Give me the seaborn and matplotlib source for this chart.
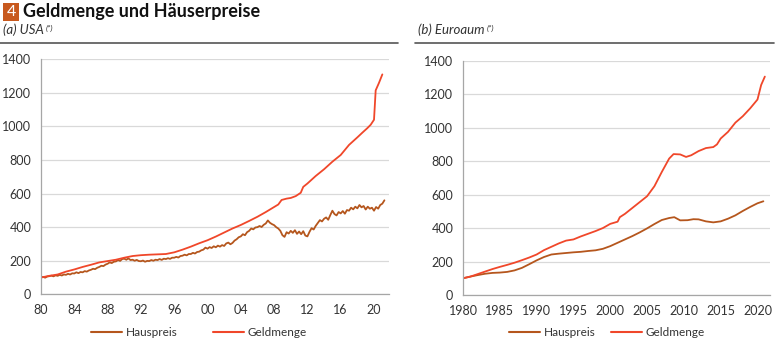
import numpy as np
import pandas as pd
import matplotlib
matplotlib.use("Agg")
import matplotlib.pyplot as plt
from matplotlib.lines import Line2D
from matplotlib.patches import Rectangle
import seaborn as sns

# ---- data -------------------------------------------------------------
# USA house price index, quarterly from 1980Q1 (1980 = 100)
us_house = [
    100, 104, 99, 106,   108, 111, 107, 113,   110, 116, 112, 118,
    116, 122, 118, 125,  124, 131, 126, 133,   131, 138, 135, 142,
    146, 152, 150, 158,  163, 170, 168, 177,   182, 190, 186, 194,
    196, 204, 199, 210,  212, 206, 214, 204,   206, 200, 205, 198,
    197, 201, 194, 199,  198, 204, 200, 206,   204, 210, 205, 212,
    210, 215, 211, 218,  218, 223, 219, 228,   230, 236, 232, 240,
    240, 247, 243, 252,  254, 262, 266, 278,   272, 281, 276, 286,
    280, 290, 284, 293,  288, 303, 308, 298,   306, 320, 328, 340,
    345, 358, 352, 370,  378, 392, 387, 398,   400, 407, 401, 414,
    422, 440, 426, 418,  412, 400, 392, 378,   352, 342, 370, 362,
    378, 366, 382, 360,  374, 358, 376, 350,   345, 372, 394, 386,
    408, 425, 442, 434,  450, 458, 444, 472,   498, 478, 470, 490,
    482, 496, 480, 502,  498, 516, 506, 522,   512, 532, 518, 526,
    505, 522, 510, 516,  498, 520, 510, 532,   540, 560,
]
us_house_t = [1980 + i / 4 for i in range(len(us_house))]

# USA money supply (1980 = 100)
us_money_t = [1980.0, 1981.0, 1982.0, 1983.0, 1984.0, 1985.0, 1986.0, 1987.0,
              1988.0, 1989.0, 1990.0, 1991.0, 1992.0, 1993.0, 1994.0, 1995.0,
              1996.0, 1997.0, 1998.0, 1999.0, 2000.0, 2001.0, 2002.0, 2003.0,
              2004.0, 2005.0, 2006.0, 2007.0, 2008.0, 2008.5, 2008.9, 2009.5,
              2010.0, 2010.6, 2011.2, 2011.5, 2012.0, 2013.0, 2014.0, 2015.0,
              2016.0, 2017.0, 2018.0, 2018.6, 2019.2, 2019.6, 2020.0, 2020.2,
              2020.6, 2021.0]
us_money = [100, 110, 118, 135, 148, 163, 176, 190,
            198, 206, 218, 228, 233, 236, 238, 240,
            250, 266, 284, 304, 322, 344, 368, 392,
            413, 437, 462, 490, 520, 535, 562, 570,
            574, 585, 605, 640, 660, 705, 745, 790,
            830, 890, 935, 963, 990, 1010, 1040, 1215,
            1260, 1310]

# Euro area house prices (1980 = 100)
eu_house_t = [1980, 1981, 1982, 1983, 1984, 1985, 1986, 1987, 1988, 1989,
              1990, 1991, 1992, 1993, 1994, 1995, 1996, 1997, 1998, 1999,
              2000, 2001, 2002, 2003, 2004, 2005, 2006, 2007, 2008, 2008.7,
              2009.5, 2010.5, 2011.3, 2012, 2013, 2014, 2015, 2016, 2017,
              2018, 2019, 2020, 2020.8]
eu_house = [100, 110, 119, 127, 132, 134, 138, 147, 162, 184,
            207, 227, 242, 247, 251, 255, 258, 263, 267, 276,
            292, 312, 332, 352, 374, 398, 424, 448, 460, 465,
            446, 447, 453, 452, 440, 434, 440, 456, 476,
            502, 526, 548, 560]

# Euro area money supply (1980 = 100)
eu_money_t = [1980, 1981, 1982, 1983, 1984, 1985, 1986, 1987, 1988, 1989,
              1990, 1991, 1992, 1993, 1994, 1995, 1996, 1997, 1998, 1999,
              2000, 2001, 2001.3, 2002, 2003, 2004, 2005, 2006, 2007, 2008,
              2008.6, 2009.5, 2010.3, 2011, 2012, 2013, 2014, 2014.5, 2015,
              2016, 2017, 2018, 2019, 2020, 2020.5, 2021]
eu_money = [100, 110, 125, 140, 155, 168, 180, 193, 208, 224,
            242, 268, 288, 308, 325, 332, 350, 366, 382, 400,
            425, 438, 465, 485, 520, 555, 590, 650, 735, 815,
            842, 840, 825, 835, 860, 878, 884, 900, 935,
            975, 1030, 1068, 1115, 1168, 1255, 1305]

series_names = ["Hauspreis", "Geldmenge"]
us_ticks = list(range(1980, 2021, 4))
us_ticklabels = [f"{y % 100:02d}" for y in us_ticks]
eu_ticks = list(range(1980, 2021, 5))
eu_ticklabels = [str(y) for y in eu_ticks]
y_ticks = list(range(0, 1401, 200))

title = "Geldmenge und Häuserpreise"
panel_titles = ["(a) USA", "(b) Euroaum"]

# ---- styling ----------------------------------------------------------
sns.set_theme(style="white")
plt.rcParams["font.family"] = ["Lato", "DejaVu Sans"]

c_house = "#b5561d"
c_money = "#f0472a"
c_box = "#c8591e"
grid_c = "#d9d9d9"
axis_c = "#a6a6a6"
text_c = "#333333"

W, H = 778, 346
fig = plt.figure(figsize=(W / 100, H / 100), dpi=100)
fig.patch.set_facecolor("white")


def px_axes(x0, x1, ytop, ybot):
    return fig.add_axes([x0 / W, 1 - ybot / H, (x1 - x0) / W, (ybot - ytop) / H])


ax_us = px_axes(41, 389, 59.3, 294.3)
ax_eu = px_axes(463, 770, 60.7, 295.0)

df_us = pd.concat([
    pd.DataFrame({"t": us_house_t, "v": us_house, "s": series_names[0]}),
    pd.DataFrame({"t": us_money_t, "v": us_money, "s": series_names[1]}),
])
df_eu = pd.concat([
    pd.DataFrame({"t": eu_house_t, "v": eu_house, "s": series_names[0]}),
    pd.DataFrame({"t": eu_money_t, "v": eu_money, "s": series_names[1]}),
])
palette = {series_names[0]: c_house, series_names[1]: c_money}

for ax, df, ticks, labels, xmax in [
    (ax_us, df_us, us_ticks, us_ticklabels, 2021.8),
    (ax_eu, df_eu, eu_ticks, eu_ticklabels, 2021.7),
]:
    sns.lineplot(data=df, x="t", y="v", hue="s", palette=palette, ax=ax,
                 linewidth=1.3, legend=False, sort=True, estimator=None)
    ax.set_xlim(1980, xmax)
    ax.set_ylim(0, 1400)
    ax.set_yticks(y_ticks)
    ax.set_xticks(ticks)
    ax.set_xticklabels(labels)
    ax.set_xlabel("")
    ax.set_ylabel("")
    ax.grid(axis="y", color=grid_c, linewidth=0.9)
    ax.set_axisbelow(True)
    for side in ["top", "right"]:
        ax.spines[side].set_visible(False)
    for side in ["left", "bottom"]:
        ax.spines[side].set_color(axis_c)
        ax.spines[side].set_linewidth(0.9)
    ax.tick_params(axis="both", direction="out", length=3, width=0.8,
                   color=axis_c, labelsize=9, labelcolor=text_c, pad=4)

# ---- title and panel headers -------------------------------------------
fig.add_artist(Rectangle((3 / W, 1 - 21 / H), 16 / W, 18 / H,
                         transform=fig.transFigure, color=c_box, lw=0))
fig.text(11 / W, 1 - 12 / H, "4", color="white", fontsize=11.5,
         ha="center", va="center")
fig.text(23 / W, 1 - 12 / H, title, fontsize=13, fontweight="bold",
         color="#111111", ha="left", va="center")

for x0, x1, txt in [(0, 398, panel_titles[0]), (415, 774, panel_titles[1])]:
    t = fig.text((x0 + 3) / W, 1 - 30 / H, txt, fontsize=9.5, style="italic",
                 color=text_c, ha="left", va="center")
    plt.annotate("(*)", xy=(1, 1), xycoords=t, xytext=(1.5, -0.5),
                 textcoords="offset points", fontsize=6, style="italic",
                 color=text_c, ha="left", va="top")
    fig.add_artist(Line2D([x0 / W, x1 / W], [1 - 43 / H] * 2,
                          transform=fig.transFigure, color="#555555", lw=1.2))

# ---- legends ------------------------------------------------------------
handles = [Line2D([], [], color=c_house, lw=1.5),
           Line2D([], [], color=c_money, lw=1.5)]
fig.legend(handles, series_names, loc="center", ncol=2,
           bbox_to_anchor=(199 / W, 1 - 333 / H), frameon=False, fontsize=8.5,
           handlelength=2.6, handletextpad=0.35, columnspacing=3.0,
           labelcolor=text_c)
fig.legend(handles, series_names, loc="center", ncol=2,
           bbox_to_anchor=(607 / W, 1 - 333 / H), frameon=False, fontsize=8.5,
           handlelength=2.6, handletextpad=0.35, columnspacing=1.3,
           labelcolor=text_c)

fig.savefig("out.png", dpi=100, facecolor="white")
